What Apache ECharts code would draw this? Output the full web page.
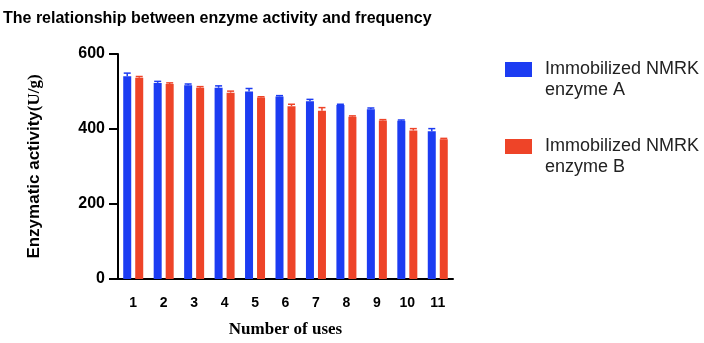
<!DOCTYPE html>
<html><head><meta charset="utf-8">
<script src="https://cdn.jsdelivr.net/npm/echarts@6/dist/echarts.min.js"></script>
<style>html,body{margin:0;padding:0;background:#fff}#c{width:704px;height:343px}</style>
</head><body><div id="c"></div>
<script>
const categories = ['1','2','3','4','5','6','7','8','9','10','11'];
const seriesNames = ['Immobilized NMRK enzyme A', 'Immobilized NMRK enzyme B'];
const valuesA = [541, 523, 517, 510, 500, 487, 474, 464, 453, 422, 394];
const valuesB = [537, 520, 510, 497, 484, 461, 449, 433, 423, 396, 373];
const errA = [8, 4, 3, 5, 8, 2, 5, 2, 3, 2, 7];
const errB = [3, 3, 3, 4, 2, 5, 8, 2, 2, 5, 2];
const yTicks = [0, 200, 400, 600];

const colors = ['#1c3cf2', '#ee4428'];
const chart = echarts.init(document.getElementById('c'));

function errSeries(vals, errs, offset, color) {
  return {
    type: 'custom',
    data: vals.map((v, i) => [i, v, errs[i]]),
    z: 5,
    renderItem: function (params, api) {
      const top = api.coord([api.value(0), api.value(1) + api.value(2)]);
      const base = api.coord([api.value(0), api.value(1)]);
      const x = top[0] + offset;
      return {
        type: 'group',
        children: [
          { type: 'line', shape: { x1: x, y1: base[1], x2: x, y2: top[1] }, style: { stroke: color, lineWidth: 1.5 } },
          { type: 'line', shape: { x1: x - 3.5, y1: top[1], x2: x + 3.5, y2: top[1] }, style: { stroke: color, lineWidth: 1.5 } }
        ]
      };
    }
  };
}

chart.setOption({
  animation: false,
  title: {
    text: 'The relationship between enzyme activity and frequency',
    left: -2, top: 6,
    textStyle: { fontFamily: 'Liberation Sans, Arial', fontWeight: 'bold', fontSize: 16, color: '#000' }
  },
  legend: {
    orient: 'vertical',
    left: 500, top: 33,
    itemWidth: 27, itemHeight: 15, itemGap: 14,
    icon: 'rect',
    data: seriesNames,
    formatter: function (name) {
      const parts = name.split(' enzyme ');
      return '\n' + parts[0] + '\nenzyme ' + parts[1];
    },
    textStyle: { fontFamily: 'Liberation Sans, Arial', fontSize: 18, color: '#222', lineHeight: 21, padding: [0, 0, 0, 8] }
  },
  grid: { left: 118, right: 251, top: 54, bottom: 64, outerBoundsMode: 'none', containLabel: false },
  xAxis: {
    type: 'category',
    data: categories,
    name: 'Number of uses',
    nameLocation: 'middle',
    nameGap: 42,
    nameTextStyle: { fontFamily: 'Liberation Serif, Times New Roman', fontWeight: 'bold', fontSize: 17, color: '#000' },
    axisLine: { lineStyle: { color: '#000', width: 2 } },
    axisTick: { alignWithLabel: true, length: 7, lineStyle: { color: '#000', width: 2 } },
    axisLabel: { margin: 17, fontFamily: 'Liberation Sans, Arial', fontWeight: 'bold', fontSize: 14, color: '#000' }
  },
  yAxis: {
    type: 'value',
    min: 0, max: 600, interval: 200,
    name: '{a|Enzymatic activity}{b|(U/g)}',
    nameLocation: 'middle',
    nameGap: 75,
    nameTextStyle: {
      rich: {
        a: { fontFamily: 'Liberation Sans, Arial', fontWeight: 'bold', fontSize: 17, color: '#000' },
        b: { fontFamily: 'Liberation Serif, Times New Roman', fontWeight: 'bold', fontSize: 17, color: '#000' }
      }
    },
    splitLine: { show: false },
    axisLine: { show: true, lineStyle: { color: '#000', width: 2 } },
    axisTick: { show: true, length: 9, lineStyle: { color: '#000', width: 2 } },
    axisLabel: {
      margin: 13,
      fontFamily: 'Liberation Sans, Arial', fontWeight: 'bold', fontSize: 16, color: '#000',
      formatter: function (v) { return yTicks.indexOf(v) >= 0 ? String(v) : ''; }
    }
  },
  series: [
    { name: seriesNames[0], type: 'bar', data: valuesA, barWidth: 8, barGap: '50%', itemStyle: { color: colors[0] } },
    { name: seriesNames[1], type: 'bar', data: valuesB, barWidth: 8, barGap: '50%', itemStyle: { color: colors[1] } },
    errSeries(valuesA, errA, -6, colors[0]),
    errSeries(valuesB, errB, 6, colors[1])
  ]
});
</script></body></html>
